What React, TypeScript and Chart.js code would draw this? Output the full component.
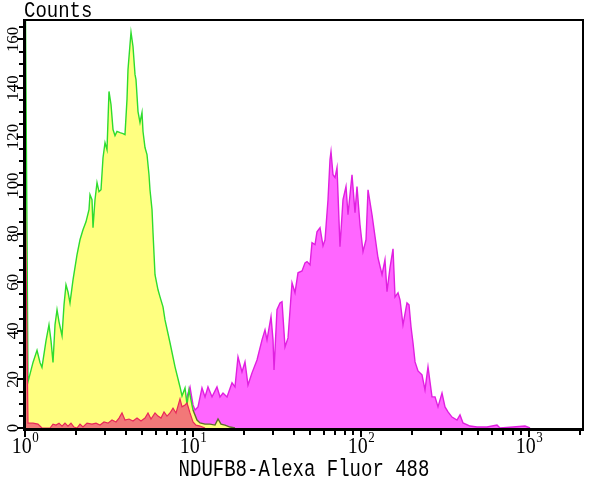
import React, { useEffect, useRef } from 'react';
import { Chart, registerables } from 'chart.js';

Chart.register(...registerables);

// ---- axis / tick data ----
const xMin = 1;
const xMax = 2096;
const yMin = 0;
const yMax = 168;
const xTickValues = [1, 10, 100, 1000];
const xTickBase = '10';
const xTickExponents = ['0', '1', '2', '3'];
const yTickValues = [0, 20, 40, 60, 80, 100, 120, 140, 160];
const yMinorStep = 5;
const yAxisTitle = 'Counts';
const xAxisTitle = 'NDUFB8-Alexa Fluor 488';

// ---- series: red (control) ----
const redX = [1, 1.042, 1.116, 1.195, 1.262, 1.316, 1.409, 1.468, 1.530, 1.594, 1.661, 1.730, 1.803, 1.878, 1.957, 2.039, 2.125, 2.214, 2.339, 2.505, 2.646, 2.796, 2.953, 3.119, 3.295, 3.481, 3.627, 3.779, 3.937, 4.159, 4.394, 4.642, 4.903, 5.179, 5.397, 5.623, 5.941, 6.190, 6.450, 6.722, 7.003, 7.297, 7.603, 7.924, 8.369, 8.603, 8.965, 9.211, 9.597, 10.0, 10.42, 11.01, 11.79];
const redCounts = [106, 2, 2, 1.6, 0, 0, 0, 1.6, 1.2, 2, 0.8, 2, 0.8, 2, 0.4, 0, 1.6, 0.4, 2, 1.6, 2, 1.2, 2.5, 2, 3.3, 2.5, 4.1, 6.2, 3.3, 3.7, 2.9, 4.1, 2.9, 4.1, 6.2, 3.7, 6.2, 4.9, 4.1, 6.6, 4.9, 6.2, 8.2, 6.2, 12, 8.7, 9.5, 10.3, 6.2, 2.5, 1.2, 0.8, 0];

// ---- series: yellow (unstained) ----
const yellowX = [1, 1.042, 1.116, 1.179, 1.228, 1.262, 1.334, 1.389, 1.428, 1.468, 1.509, 1.551, 1.594, 1.661, 1.707, 1.754, 1.803, 1.853, 1.931, 2.039, 2.125, 2.214, 2.307, 2.404, 2.437, 2.505, 2.540, 2.610, 2.683, 2.757, 2.834, 2.913, 2.994, 3.077, 3.162, 3.250, 3.341, 3.434, 3.529, 3.678, 3.831, 3.937, 4.047, 4.103, 4.217, 4.276, 4.394, 4.516, 4.578, 4.706, 4.836, 4.971, 5.040, 5.179, 5.323, 5.471, 5.546, 5.702, 5.781, 5.941, 6.190, 6.362, 6.629, 6.813, 7.297, 7.816, 8.369, 8.603, 8.965, 9.211, 9.467, 9.730, 10.0, 10.56, 11.01, 11.79, 12.62, 13.52, 14.09, 14.68, 15.51, 16.61, 17.78];
const yellowCounts = [200, 19, 27, 32, 27, 25, 36, 42.5, 36, 27, 42.5, 48.7, 43.7, 38, 50.7, 59, 56, 51.5, 61, 71.3, 77.5, 81.6, 84.9, 89.9, 96.1, 94, 82.5, 94, 101, 97.3, 98.1, 111.3, 117.5, 114.6, 138.6, 133.2, 122.9, 120.4, 122.1, 121.6, 121.2, 120.8, 135.3, 147.6, 157.9, 162.9, 157.1, 145.6, 143.5, 130.3, 125.8, 129.9, 122.1, 115.5, 112.6, 104.3, 98.1, 89.9, 80.4, 63.1, 56.9, 54, 49.9, 44.5, 35.1, 25.2, 16.9, 13.2, 16.5, 9.5, 15.7, 11.5, 7.4, 3.3, 2.1, 1.6, 1.6, 1.2, 3.7, 1.6, 1.2, 0.4, 0];

// ---- series: magenta (NDUFB8) ----
const magentaX = [8.720, 9.085, 9.597, 10.0, 10.28, 10.71, 11.31, 11.79, 12.28, 12.98, 13.89, 14.48, 15.09, 15.94, 17.07, 17.78, 18.53, 19.57, 20.39, 21.25, 22.45, 24.04, 25.75, 26.83, 27.57, 29.13, 29.94, 30.36, 31.62, 32.95, 33.87, 35.29, 36.78, 38.85, 40.47, 42.17, 44.56, 46.42, 47.72, 49.71, 51.09, 53.23, 54.71, 57.02, 59.41, 61.07, 63.62, 65.39, 66.29, 68.13, 70.03, 71.97, 74.99, 78.14, 81.42, 83.68, 88.40, 92.11, 94.67, 98.64, 102.8, 107.1, 110.1, 116.3, 121.2, 126.2, 133.4, 138.9, 142.8, 148.8, 155.1, 159.4, 166.1, 170.7, 177.8, 187.8, 193.1, 198.5, 204.0, 209.7, 218.4, 230.7, 240.4, 250.5, 264.6, 275.8, 287.3, 303.5, 316.2, 329.5, 348.1, 372.8, 388.4, 404.7, 445.6, 490.5, 562.3, 645.0, 672.1, 803.2, 946.6, 1014];
const magentaCounts = [3.3, 11.5, 16.9, 9.5, 7.4, 8.7, 16.5, 12.8, 16.9, 12.8, 16.9, 12.8, 14.4, 12.8, 18.6, 16.9, 29.3, 23.1, 27.2, 17.7, 22.7, 28, 36.3, 40.4, 36.3, 45.8, 36.3, 23.9, 48.7, 51.5, 52, 33.4, 37.1, 59.8, 55.7, 63.9, 64.7, 68, 68.5, 67.2, 76.3, 75.5, 80.8, 82.5, 75, 77.5, 94, 110.5, 113.8, 104.3, 103.1, 107.2, 74.6, 94, 99.4, 87.8, 104.3, 88.7, 99.4, 83.7, 72.6, 77.5, 98.1, 87.8, 78.8, 70.1, 63.1, 69.3, 56.1, 66, 73.8, 54, 55.7, 52.8, 42.5, 51.5, 50.7, 41.6, 35, 27.2, 23.5, 21.9, 15.7, 25.2, 12.8, 12.8, 8.7, 14.4, 8.7, 6.6, 4.5, 3.3, 5.4, 2.1, 0.8, 0.4, 0.4, 1.2, 0, 0.4, 0.8, 0];

function pts(xs: number[], ys: number[]) {
  return xs.map((x, i) => ({ x, y: ys[i] }));
}

function stretchedText(ctx: CanvasRenderingContext2D, text: string, x: number, y: number, sy: number) {
  ctx.save();
  ctx.translate(x, y);
  ctx.scale(1, sy);
  ctx.fillText(text, 0, 0);
  ctx.restore();
}

const framePlugin = {
  id: 'histFrame',
  afterDatasetsDraw(chart: any) {
    const { ctx, chartArea, scales } = chart;
    const { left, right, top, bottom } = chartArea;
    const xs = scales.x;
    const ys = scales.y;
    ctx.save();
    ctx.fillStyle = '#000';
    // frame
    ctx.fillRect(left, top - 1, right - left, 2);
    ctx.fillRect(right - 1, top - 1, 2, bottom - top + 2);
    ctx.fillRect(left - 2, top - 1, 3, bottom - top + 4);
    ctx.fillRect(left - 2, bottom, right - left + 3, 3);
    // y ticks
    for (let v = yMin; v <= yMax; v += yMinorStep) {
      const py = Math.round(ys.getPixelForValue(v));
      const major = v % 20 === 0;
      const len = major ? 6 : 4;
      ctx.fillRect(left - 2 - len, py - 1, len, 2);
    }
    // x ticks (log)
    for (let d = 1; d <= 1000; d *= 10) {
      for (let m = 1; m <= 9; m++) {
        const v = d * m;
        if (v > xMax) break;
        const px = Math.round(xs.getPixelForValue(v));
        const len = m === 1 ? 6 : 4;
        ctx.fillRect(px - 1, bottom + 3, 2, len);
      }
    }
    ctx.restore();
  },
  afterDraw(chart: any) {
    const { ctx, chartArea, scales } = chart;
    const { left, right, bottom } = chartArea;
    const xs = scales.x;
    const ys = scales.y;
    ctx.save();
    ctx.fillStyle = '#000';
    ctx.textBaseline = 'alphabetic';
    // x tick labels
    xTickValues.forEach((v, i) => {
      const px = xs.getPixelForValue(v);
      ctx.font = '20px "Liberation Serif"';
      const wb = ctx.measureText(xTickBase).width;
      ctx.font = '13px "Liberation Serif"';
      const we = ctx.measureText(xTickExponents[i]).width;
      const start = px - (wb + we) / 2;
      ctx.textAlign = 'left';
      ctx.font = '20px "Liberation Serif"';
      stretchedText(ctx, xTickBase, start, bottom + 25, 1.2);
      ctx.font = '13px "Liberation Serif"';
      stretchedText(ctx, xTickExponents[i], start + wb + 0.5, bottom + 14, 1.2);
    });
    // y tick labels (rotated)
    ctx.font = '16px "Liberation Serif"';
    ctx.textAlign = 'center';
    yTickValues.forEach((v) => {
      const py = ys.getPixelForValue(v);
      ctx.save();
      ctx.translate(left - 7, py);
      ctx.rotate(-Math.PI / 2);
      ctx.scale(1.05, 1.1);
      ctx.fillText(String(v), 0, 0);
      ctx.restore();
    });
    // titles
    ctx.font = '19px "Liberation Mono"';
    ctx.textAlign = 'left';
    stretchedText(ctx, yAxisTitle, left - 1, 17, 1.2);
    ctx.textAlign = 'center';
    stretchedText(ctx, xAxisTitle, (left + right) / 2, bottom + 48, 1.25);
    ctx.restore();
  },
};

export default function App() {
  const ref = useRef<HTMLCanvasElement>(null);
  useEffect(() => {
    const canvas = ref.current;
    if (!canvas) return;
    const chart = new Chart(canvas, {
      type: 'line',
      data: {
        datasets: [
          {
            label: 'Control',
            data: pts(redX, redCounts),
            borderColor: '#E8285A',
            backgroundColor: '#F27878',
            fill: 'origin',
            borderWidth: 1.2,
            pointRadius: 0,
            tension: 0,
          },
          {
            label: 'Unstained',
            data: pts(yellowX, yellowCounts),
            borderColor: '#2EDC2E',
            backgroundColor: '#FFFF80',
            fill: 'origin',
            borderWidth: 1.4,
            pointRadius: 0,
            tension: 0,
            segment: {
              borderColor: (c: any) => (c.p0.parsed.x >= 10 ? '#5E6E28' : '#2EDC2E'),
            },
          },
          {
            label: 'NDUFB8',
            data: pts(magentaX, magentaCounts),
            borderColor: '#E020E0',
            backgroundColor: '#FF66FF',
            fill: 'origin',
            borderWidth: 1.4,
            pointRadius: 0,
            tension: 0,
          },
        ],
      } as any,
      options: {
        responsive: false,
        animation: false,
        events: [],
        layout: { padding: { top: 20, right: 17, left: 0, bottom: 0 } },
        plugins: { legend: { display: false }, tooltip: { enabled: false }, title: { display: false } },
        scales: {
          x: {
            type: 'logarithmic',
            min: xMin,
            max: xMax,
            bounds: 'data',
            ticks: { display: false },
            grid: { display: false },
            border: { display: false },
            afterFit: (s: any) => { s.height = 52; },
          },
          y: {
            type: 'linear',
            min: yMin,
            max: yMax,
            bounds: 'data',
            ticks: { display: false },
            grid: { display: false },
            border: { display: false },
            afterFit: (s: any) => { s.width = 25; },
          },
        },
      } as any,
      plugins: [framePlugin],
    });
    return () => chart.destroy();
  }, []);
  return (
    <div style={{ position: 'absolute', left: 0, top: 0, width: 600, height: 480, background: '#fff' }}>
      <canvas ref={ref} width={600} height={480} style={{ display: 'block' }} />
    </div>
  );
}
